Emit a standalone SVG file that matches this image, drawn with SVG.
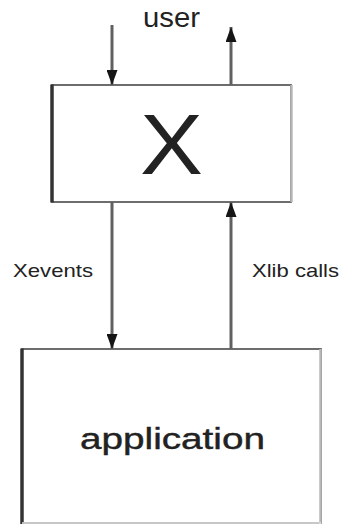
<svg xmlns="http://www.w3.org/2000/svg" width="341" height="524" viewBox="0 0 341 524">
  <style>
    .box { fill: #ffffff; stroke: #5e5e5e; stroke-width: 1.8; }
    .edgeL { stroke: #333333; stroke-width: 3.5; }
    .edgeR { stroke: #b8b8b8; stroke-width: 2.5; }
    .conn { stroke: #606060; stroke-width: 3; fill: none; }
    .t { font-family: "Liberation Sans", Arial, sans-serif; fill: #222222; }
  </style>
  <defs>
    <marker id="ah" viewBox="0 0 15 11" refX="15" refY="5.5" markerWidth="15" markerHeight="11" markerUnits="userSpaceOnUse" orient="auto">
      <path d="M0,0 L15,5.5 L0,11 z" fill="#151515"/>
    </marker>
  </defs>
  <rect width="341" height="524" fill="#ffffff"/>

  <g id="node-x">
    <rect class="box" x="52" y="85" width="239" height="117"/>
    <line class="edgeL" x1="52" y1="84.5" x2="52" y2="202.5"/>
    <line class="edgeR" x1="291.5" y1="85" x2="291.5" y2="202"/>
    <text class="t" x="171.5" y="174" font-size="86" text-anchor="middle" textLength="63" lengthAdjust="spacingAndGlyphs" fill="#111">X</text>
  </g>

  <g id="node-application">
    <rect class="box" x="22" y="349" width="299" height="174"/>
    <line class="edgeL" x1="22" y1="348.5" x2="22" y2="524"/>
    <line class="edgeR" x1="320.5" y1="349" x2="320.5" y2="524"/>
    <line x1="22" y1="523" x2="321" y2="523" stroke="#e6e6e6" stroke-width="1.5"/>
    <text class="t" x="80" y="449" font-size="29" textLength="185" lengthAdjust="spacingAndGlyphs" stroke="#222" stroke-width="0.4">application</text>
  </g>

  <g id="connectors">
    <line class="conn" x1="112" y1="25" x2="112" y2="85" marker-end="url(#ah)"/>
    <line class="conn" x1="231" y1="85" x2="231" y2="27" marker-end="url(#ah)"/>
    <line class="conn" x1="112" y1="202" x2="112" y2="349" marker-end="url(#ah)"/>
    <line class="conn" x1="231" y1="349" x2="231" y2="202" marker-end="url(#ah)"/>
  </g>

  <g id="labels">
    <text class="t" x="171.5" y="26.5" font-size="27" text-anchor="middle" textLength="57" lengthAdjust="spacingAndGlyphs" fill="#444">user</text>
    <text class="t" x="13" y="277" font-size="19" textLength="80" lengthAdjust="spacingAndGlyphs" fill="#333">Xevents</text>
    <text class="t" x="252" y="277" font-size="19" textLength="87" lengthAdjust="spacingAndGlyphs" fill="#333">Xlib calls</text>
  </g>
</svg>
